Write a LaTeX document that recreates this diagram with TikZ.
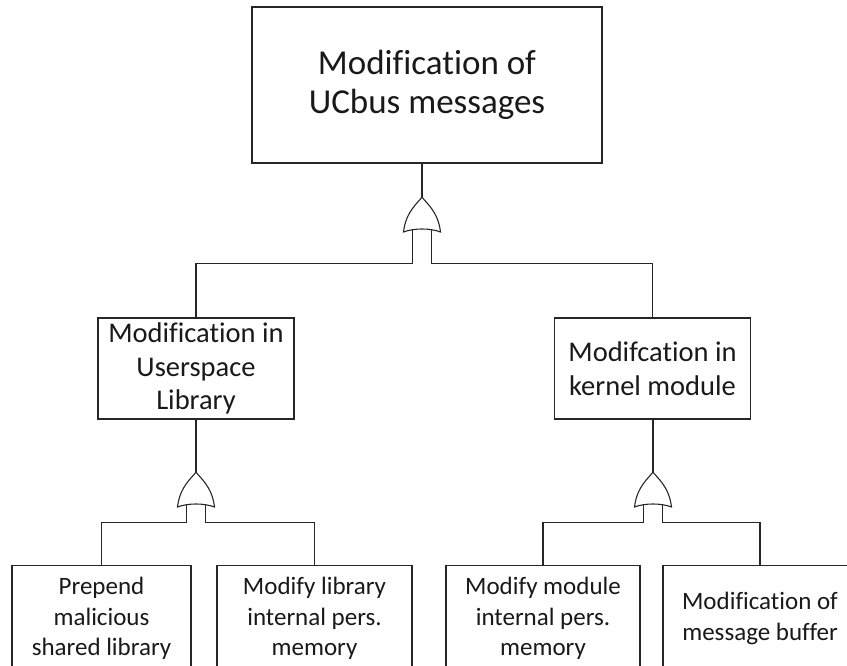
\documentclass[tikz,border=0pt]{standalone}
\usepackage{fontspec}
\setmainfont{Carlito}[Ligatures=NoCommon]
\begin{document}
\begin{tikzpicture}[x=1pt,y=-1pt,
  line/.style={line width=1.2pt,draw=black!85},
  box/.style={line,inner sep=0pt,align=center,text=black!90},
  topbox/.style={box,minimum width=350pt,minimum height=156pt,font=\fontsize{35}{39}\selectfont},
  midbox/.style={box,minimum width=196pt,minimum height=101pt,font=\fontsize{28.5}{33.5}\selectfont},
  leafbox/.style={box,minimum height=106pt,font=\fontsize{25}{30.5}\selectfont},
  orgate/.pic={
    \draw[line,line width=1.1pt] (-18.5,35) .. controls (-16,14) and (-4,6) .. (0,0)
      .. controls (4,6) and (16,14) .. (18.5,35)
      .. controls (8,31) and (-8,31) .. cycle;
    \coordinate (-out) at (0,0);
    \coordinate (-in1) at (-9.5,32.2);
    \coordinate (-in2) at (9.5,32.2);
  }]
\path[use as bounding box,clip] (0,0) rectangle (847,666);

% goal
\node[topbox] (top) at (427,85) {Modification of\\UCbus messages};

% intermediate events
\node[midbox] (ml) at (196,368.5) {Modification in\\Userspace\\Library};
\node[midbox] (mr) at (652.5,368.5) {Modifcation in\\kernel module};

% basic events (running off the lower edge)
\node[leafbox,minimum width=179pt,anchor=north] (l1) at (101.5,565) {Prepend\\malicious\\shared library};
\node[leafbox,minimum width=195pt,anchor=north] (l2) at (314.5,565) {Modify library\\internal pers.\\memory};
\node[leafbox,minimum width=194pt,anchor=north] (l3) at (543,565) {Modify module\\internal pers.\\memory};
\node[leafbox,minimum width=194pt,anchor=north] (l4) at (760,565) {Modification of\\message buffer};

% OR gates
\pic (g0) at (422,197) {orgate};
\pic (g1) at (196,472) {orgate};
\pic (g2) at (653,472) {orgate};

% connectors
\draw[line] (g0-out) -- (g0-out |- top.south);
\draw[line] (g0-in1) -- ++(0,34) -| (ml.north);
\draw[line] (g0-in2) -- ++(0,34) -| (mr.north);

\draw[line] (g1-out) -- (ml.south);
\draw[line] (g1-in1) -- ++(0,18.5) -| (l1.north);
\draw[line] (g1-in2) -- ++(0,18.5) -| (l2.north);

\draw[line] (g2-out) -- (g2-out |- mr.south);
\draw[line] (g2-in1) -- ++(0,18.5) -| (l3.north);
\draw[line] (g2-in2) -- ++(0,18.5) -| (l4.north);
\end{tikzpicture}
\end{document}
